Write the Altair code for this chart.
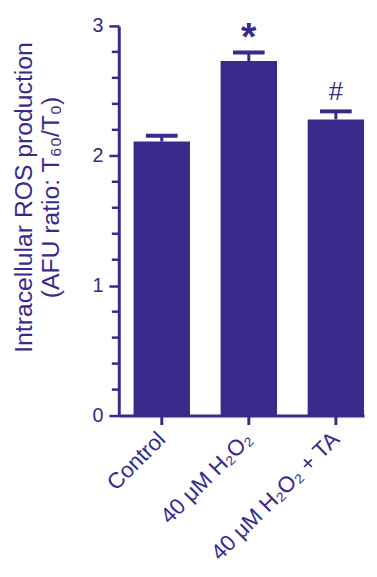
import altair as alt
import pandas as pd

categories = ["Control", "40 \u03bcM H\u2082O\u2082", "40 \u03bcM H\u2082O\u2082 + TA"]
means = [2.11, 2.73, 2.28]
sems = [0.045, 0.066, 0.062]
markers = ["", "*", "#"]
major_ticks = [0, 1, 2, 3]
minor_ticks = [0.2, 0.4, 0.6, 0.8, 1.2, 1.4, 1.6, 1.8, 2.2, 2.4, 2.6, 2.8]

COLOR = "#38298a"
FONT = "Liberation Sans"

df = pd.DataFrame({
    "group": categories,
    "mean": means,
    "upper": [m + s for m, s in zip(means, sems)],
    "marker": markers,
})
minor_df = pd.DataFrame({"v": minor_ticks})

xenc = alt.X(
    "group:N", sort=categories,
    scale=alt.Scale(paddingInner=0.352, paddingOuter=0.085, align=1),
    axis=alt.Axis(
        title=None, labelAngle=-45, labelAlign="right", labelBaseline="middle",
        labelFontSize=22.5, labelFont=FONT, labelColor=COLOR, labelPadding=11,
        domainColor=COLOR, domainWidth=3, tickColor=COLOR, tickWidth=3,
        tickSize=9, labelLimit=400,
    ),
)
yscale = alt.Scale(domain=[0, 3], nice=False)

bars = alt.Chart(df).mark_bar(color=COLOR).encode(
    x=xenc,
    y=alt.Y(
        "mean:Q", scale=yscale,
        axis=alt.Axis(
            values=major_ticks, format="d", labelOverlap=False,
            labelFontSize=20, labelFont=FONT, labelColor=COLOR, labelPadding=6,
            domainColor=COLOR, domainWidth=3, tickColor=COLOR, tickWidth=2.5,
            tickSize=10, grid=False,
            title=["Intracellular ROS production", "(AFU ratio: T\u2086\u2080/T\u2080)"],
            titleFont=FONT, titleFontSize=25, titleFontWeight="normal", titleColor=COLOR,
            titleAngle=-90, titleAlign="center", titleBaseline="alphabetic",
            titleX=-88, titleY=173, titleLineHeight=27,
        ),
    ),
)

minor = alt.Chart(minor_df).mark_rule(color=COLOR, strokeWidth=2.5).encode(
    x=alt.value(-7), x2=alt.value(0),
    y=alt.Y("v:Q", scale=yscale),
)

err = alt.Chart(df).mark_rule(color=COLOR, strokeWidth=3).encode(
    x=alt.X("group:N", sort=categories),
    y=alt.Y("mean:Q", scale=yscale),
    y2="upper:Q",
)

caps = alt.Chart(df).mark_tick(color=COLOR, thickness=4, size=32, opacity=1).encode(
    x=alt.X("group:N", sort=categories),
    y=alt.Y("upper:Q", scale=yscale),
)

star = alt.Chart(df).transform_filter("datum.marker == '*'").mark_text(
    color=COLOR, font=FONT, fontSize=40, fontWeight="bold", baseline="middle", dy=-14
).encode(
    x=alt.X("group:N", sort=categories),
    y=alt.Y("upper:Q", scale=yscale),
    text="marker:N",
)

hashm = alt.Chart(df).transform_filter("datum.marker == '#'").mark_text(
    color=COLOR, font=FONT, fontSize=26, baseline="middle", dy=-20
).encode(
    x=alt.X("group:N", sort=categories),
    y=alt.Y("upper:Q", scale=yscale),
    text="marker:N",
)

chart = alt.layer(bars, minor, err, caps, star, hashm).properties(
    width=248, height=394,
    autosize=alt.AutoSizeParams(type="none"),
    padding={"left": 112, "top": 15, "right": 5, "bottom": 150},
).configure_view(stroke=None)

chart.save("out.html", embed_options={"renderer": "svg", "actions": False})
